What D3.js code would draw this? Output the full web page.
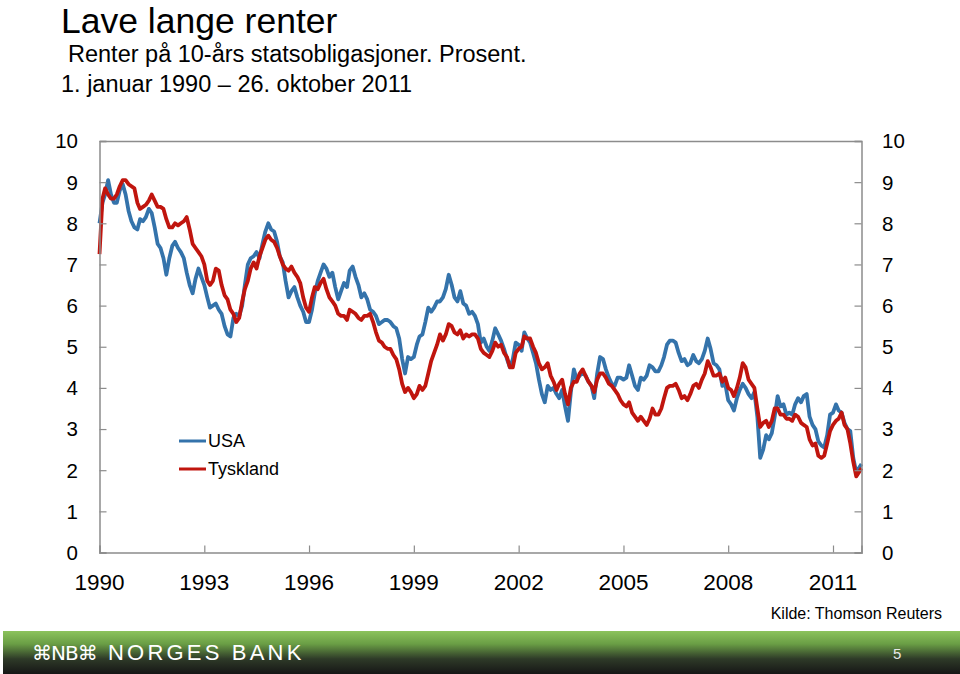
<!DOCTYPE html>
<html>
<head>
<meta charset="utf-8">
<script src="https://cdn.jsdelivr.net/npm/d3@7/dist/d3.min.js"></script>
<style>
  html, body { margin: 0; padding: 0; background: #fff; }
  svg { display: block; }
</style>
</head>
<body>
<svg id="chart" width="960" height="674"></svg>
<script>
// ---------- DATA (monthly, Jan 1990 – Oct 2011) ----------
const startDate = [1990, 0];
const endDate = [2011, 9, 26];

const usa = [
  8.00, 8.50, 8.70, 9.05, 8.70, 8.50, 8.50, 8.80, 8.95, 8.70, 8.30, 8.05, // 1990
  7.90, 7.85, 8.10, 8.05, 8.15, 8.35, 8.25, 7.90, 7.50, 7.40, 7.15, 6.75, // 1991
  7.15, 7.45, 7.55, 7.40, 7.30, 7.15, 6.80, 6.50, 6.30, 6.65, 6.90, 6.70, // 1992
  6.50, 6.20, 5.95, 6.00, 6.05, 5.90, 5.80, 5.50, 5.30, 5.25, 5.70, 5.80, // 1993
  5.75, 6.00, 6.50, 7.00, 7.15, 7.20, 7.30, 7.15, 7.50, 7.80, 8.00, 7.85, // 1994
  7.80, 7.55, 7.20, 7.05, 6.60, 6.20, 6.35, 6.45, 6.20, 6.00, 5.85, 5.60, // 1995
  5.60, 5.90, 6.30, 6.60, 6.80, 7.00, 6.90, 6.70, 6.80, 6.45, 6.15, 6.35, // 1996
  6.55, 6.45, 6.85, 6.95, 6.70, 6.50, 6.20, 6.30, 6.15, 5.90, 5.85, 5.75, // 1997
  5.55, 5.60, 5.65, 5.65, 5.60, 5.50, 5.45, 5.20, 4.70, 4.35, 4.75, 4.70, // 1998
  4.75, 5.05, 5.25, 5.30, 5.60, 5.95, 5.85, 5.95, 6.10, 6.10, 6.20, 6.40, // 1999
  6.75, 6.50, 6.20, 6.10, 6.35, 6.05, 6.00, 5.80, 5.85, 5.75, 5.55, 5.10, // 2000
  5.20, 5.00, 4.90, 5.15, 5.45, 5.30, 5.15, 4.95, 4.70, 4.50, 4.70, 5.10, // 2001
  5.05, 4.90, 5.35, 5.20, 5.10, 4.85, 4.60, 4.20, 3.85, 3.65, 4.05, 3.95, // 2002
  4.00, 3.85, 3.75, 3.95, 3.55, 3.20, 3.90, 4.45, 4.20, 4.30, 4.35, 4.30, // 2003
  4.15, 4.05, 3.75, 4.35, 4.75, 4.70, 4.45, 4.25, 4.10, 4.05, 4.25, 4.25, // 2004
  4.20, 4.25, 4.55, 4.30, 4.05, 3.95, 4.25, 4.20, 4.30, 4.55, 4.50, 4.40, // 2005
  4.40, 4.55, 4.75, 5.05, 5.15, 5.15, 5.10, 4.85, 4.65, 4.70, 4.55, 4.60, // 2006
  4.80, 4.65, 4.60, 4.70, 4.90, 5.20, 4.95, 4.60, 4.55, 4.45, 4.05, 4.10, // 2007
  3.70, 3.60, 3.45, 3.75, 3.95, 4.10, 4.00, 3.85, 3.75, 3.90, 3.30, 2.30, // 2008
  2.50, 2.85, 2.75, 2.90, 3.30, 3.80, 3.55, 3.60, 3.35, 3.40, 3.35, 3.60, // 2009
  3.75, 3.65, 3.80, 3.85, 3.30, 3.10, 3.00, 2.70, 2.60, 2.55, 2.85, 3.35, // 2010
  3.40, 3.60, 3.45, 3.40, 3.15, 3.00, 2.95, 2.30, 1.95, 2.15              // 2011
];

const tyskland = [
  7.25, 8.60, 8.85, 8.70, 8.60, 8.60, 8.70, 8.90, 9.05, 9.05, 8.95, 8.90, // 1990
  8.85, 8.50, 8.35, 8.40, 8.45, 8.55, 8.70, 8.55, 8.40, 8.40, 8.35, 8.10, // 1991
  7.90, 7.90, 8.00, 7.95, 8.00, 8.05, 8.15, 7.85, 7.50, 7.40, 7.30, 7.20, // 1992
  7.00, 6.60, 6.50, 6.60, 6.90, 6.85, 6.50, 6.25, 6.15, 5.90, 5.80, 5.60, // 1993
  5.70, 6.10, 6.40, 6.60, 6.90, 7.05, 6.90, 7.20, 7.40, 7.60, 7.70, 7.60, // 1994
  7.55, 7.40, 7.20, 7.00, 6.90, 6.85, 6.95, 6.80, 6.70, 6.55, 6.20, 5.95, // 1995
  5.85, 6.20, 6.45, 6.40, 6.55, 6.65, 6.40, 6.20, 6.10, 6.00, 5.80, 5.75, // 1996
  5.75, 5.65, 5.90, 5.85, 5.80, 5.70, 5.65, 5.75, 5.75, 5.80, 5.60, 5.35, // 1997
  5.15, 5.10, 5.00, 4.95, 4.95, 4.80, 4.70, 4.45, 4.10, 3.90, 4.00, 3.90, // 1998
  3.75, 3.85, 4.05, 3.95, 4.05, 4.35, 4.65, 4.85, 5.05, 5.30, 5.15, 5.30, // 1999
  5.55, 5.50, 5.35, 5.30, 5.40, 5.20, 5.30, 5.25, 5.30, 5.30, 5.20, 4.95, // 2000
  4.85, 4.80, 4.75, 4.90, 5.10, 5.00, 5.05, 4.85, 4.75, 4.50, 4.50, 4.85, // 2001
  4.95, 5.00, 5.25, 5.20, 5.20, 5.00, 4.85, 4.60, 4.45, 4.50, 4.60, 4.30, // 2002
  4.15, 3.95, 4.10, 4.20, 3.85, 3.60, 4.00, 4.15, 4.15, 4.35, 4.45, 4.30, // 2003
  4.15, 4.05, 3.90, 4.20, 4.35, 4.35, 4.25, 4.10, 4.05, 3.95, 3.85, 3.70, // 2004
  3.60, 3.55, 3.65, 3.40, 3.30, 3.20, 3.30, 3.20, 3.10, 3.25, 3.50, 3.35, // 2005
  3.35, 3.50, 3.75, 4.00, 4.05, 4.05, 4.10, 3.95, 3.75, 3.80, 3.70, 3.85, // 2006
  4.05, 4.10, 4.00, 4.20, 4.35, 4.65, 4.50, 4.30, 4.30, 4.35, 4.15, 4.25, // 2007
  4.00, 3.95, 3.80, 4.00, 4.25, 4.60, 4.50, 4.20, 4.10, 4.00, 3.50, 3.05, // 2008
  3.15, 3.20, 3.05, 3.20, 3.50, 3.50, 3.35, 3.35, 3.25, 3.25, 3.20, 3.35, // 2009
  3.30, 3.15, 3.10, 3.05, 2.75, 2.60, 2.65, 2.35, 2.30, 2.35, 2.65, 2.95, // 2010
  3.10, 3.20, 3.25, 3.40, 3.10, 3.00, 2.65, 2.20, 1.85, 2.05              // 2011
];

const yTicks = [0, 1, 2, 3, 4, 5, 6, 7, 8, 9, 10];
const xTickYears = [1990, 1993, 1996, 1999, 2002, 2005, 2008, 2011];
const seriesNames = ["USA", "Tyskland"];
const seriesColors = ["#3473ab", "#c0150e"];

const titleText = "Lave lange renter";
const subtitle1 = "Renter på 10-års statsobligasjoner. Prosent.";
const subtitle2 = "1. januar 1990 – 26. oktober 2011";
const sourceText = "Kilde: Thomson Reuters";
const pageNumber = "5";

// ---------- DRAWING ----------
const svg = d3.select("#chart");
const font = "'Liberation Sans', Arial, Helvetica, sans-serif";

const x0 = new Date(startDate[0], startDate[1], 1);
const x1 = new Date(endDate[0], endDate[1], endDate[2]);
const dates = usa.map((_, i) => i === usa.length - 1 ? x1 : new Date(startDate[0], startDate[1] + i, 1));

const pLeft = 99.5, pRight = 861.5, pTop = 141, pBottom = 552.5;
const x = d3.scaleTime().domain([x0, x1]).range([pLeft, pRight]);
const y = d3.scaleLinear().domain([0, 10]).range([pBottom, pTop]);

// Title block
svg.append("text").attr("x", 61).attr("y", 33)
  .attr("font-family", font).attr("font-size", 35.5).attr("fill", "#000").text(titleText);
svg.append("text").attr("x", 68).attr("y", 62)
  .attr("font-family", font).attr("font-size", 23.5).attr("fill", "#000").text(subtitle1);
svg.append("text").attr("x", 61).attr("y", 92)
  .attr("font-family", font).attr("font-size", 23.5).attr("fill", "#000").text(subtitle2);

// Series lines
const line = d3.line().x((d, i) => x(dates[i])).y(d => y(d));
[usa, tyskland].forEach((s, k) => {
  svg.append("path").datum(s)
    .attr("fill", "none").attr("stroke", seriesColors[k])
    .attr("stroke-width", 3.8).attr("stroke-linejoin", "round")
    .attr("d", line);
});

// Axes
const axisColor = "#8c8c8c";
const gL = svg.append("g").attr("transform", `translate(${pLeft},0)`)
  .call(d3.axisRight(y).tickValues(yTicks).tickSize(7).tickFormat(""));
const gR = svg.append("g").attr("transform", `translate(${pRight},0)`)
  .call(d3.axisLeft(y).tickValues(yTicks).tickSize(7).tickFormat(""));
const gB = svg.append("g").attr("transform", `translate(0,${pBottom})`)
  .call(d3.axisTop(x).tickValues(xTickYears.map(yr => new Date(yr, 0, 1))).tickSize(7).tickFormat(""));
const gT = svg.append("g").attr("transform", `translate(0,${pTop})`)
  .call(d3.axisBottom(x).tickValues([]).tickSize(0).tickFormat(""));
[gL, gR, gB, gT].forEach(g => {
  g.select(".domain").attr("stroke", axisColor).attr("stroke-width", 1.5);
  g.selectAll(".tick line").attr("stroke", axisColor).attr("stroke-width", 1.2);
});

// Tick labels
svg.append("g").selectAll("text").data(yTicks).join("text")
  .attr("x", 78).attr("y", d => y(d)).attr("dy", "0.36em")
  .attr("text-anchor", "end").attr("font-family", font).attr("font-size", 20.5)
  .text(d => d);
svg.append("g").selectAll("text").data(yTicks).join("text")
  .attr("x", 882).attr("y", d => y(d)).attr("dy", "0.36em")
  .attr("text-anchor", "start").attr("font-family", font).attr("font-size", 20.5)
  .text(d => d);
svg.append("g").selectAll("text").data(xTickYears).join("text")
  .attr("x", d => x(new Date(d, 0, 1))).attr("y", 590)
  .attr("text-anchor", "middle").attr("font-family", font).attr("font-size", 22.5)
  .text(d => d);

// Legend
const leg = svg.append("g");
seriesNames.forEach((n, k) => {
  const ly = 441 + k * 28;
  leg.append("line").attr("x1", 179).attr("x2", 206).attr("y1", ly).attr("y2", ly)
    .attr("stroke", seriesColors[k]).attr("stroke-width", 3);
  leg.append("text").attr("x", 208).attr("y", ly).attr("dy", "0.36em")
    .attr("font-family", font).attr("font-size", 18).text(n);
});

// Source
svg.append("text").attr("x", 942).attr("y", 619).attr("text-anchor", "end")
  .attr("font-family", font).attr("font-size", 16).text(sourceText);

// Footer bar
const defs = svg.append("defs");
const grad = defs.append("linearGradient").attr("id", "footGrad")
  .attr("x1", 0).attr("y1", 0).attr("x2", 0).attr("y2", 1);
grad.append("stop").attr("offset", "0%").attr("stop-color", "#8cc35c");
grad.append("stop").attr("offset", "30%").attr("stop-color", "#6a9e45");
grad.append("stop").attr("offset", "65%").attr("stop-color", "#2e3a28");
grad.append("stop").attr("offset", "100%").attr("stop-color", "#161616");
svg.append("rect").attr("x", 3).attr("y", 631).attr("width", 957).attr("height", 43)
  .attr("fill", "url(#footGrad)");
svg.append("text").attr("x", 32).attr("y", 660)
  .attr("font-family", "'DejaVu Sans', sans-serif").attr("font-size", 20).attr("fill", "#fff")
  .attr("letter-spacing", -1)
  .text("⌘NB⌘");
svg.append("text").attr("x", 108).attr("y", 660)
  .attr("font-family", font).attr("font-size", 22).attr("fill", "#fff")
  .attr("letter-spacing", 3.2)
  .text("NORGES BANK");
svg.append("text").attr("x", 893).attr("y", 659)
  .attr("font-family", font).attr("font-size", 15).attr("fill", "#e8e8e8")
  .text(pageNumber);
</script>
</body>
</html>
